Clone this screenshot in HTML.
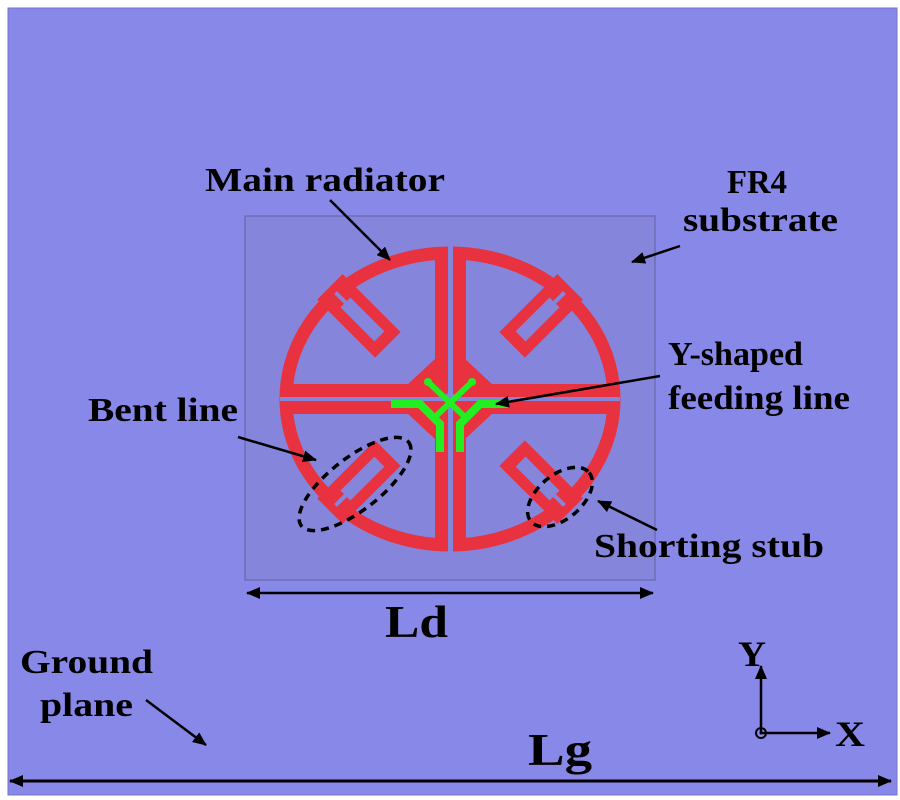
<!DOCTYPE html>
<html><head><style>html,body{margin:0;padding:0;background:#fff}svg{display:block}</style></head>
<body>
<svg width="900" height="800" viewBox="0 0 900 800" xmlns="http://www.w3.org/2000/svg" font-family="Liberation Serif, serif" font-weight="bold">
<defs>
<marker id="ah2" markerWidth="14" markerHeight="12" refX="13" refY="6" orient="auto" markerUnits="userSpaceOnUse"><path d="M0,0 L14,6 L0,12 z" fill="#000"/></marker>
<marker id="ahs" markerWidth="14" markerHeight="12" refX="1" refY="6" orient="auto" markerUnits="userSpaceOnUse"><path d="M14,0 L0,6 L14,12 z" fill="#000"/></marker>
<g id="stub">
 <g transform="translate(361,318) rotate(45)">
  <rect x="-44" y="-18" width="82" height="36" fill="#e8323f"/>
  <rect x="-22" y="-7" width="48" height="14" fill="#8585dc"/>
  <rect x="-36" y="-2" width="14" height="4" fill="#8585dc"/>
 </g>
</g>
</defs>
<rect x="8" y="8" width="889" height="787" fill="#8888e8" stroke="#7474c8" stroke-width="1"/>
<rect x="245" y="216" width="410" height="364" fill="#8585dc" stroke="#6d6db5" stroke-width="1.5"/>
<ellipse cx="450" cy="399" rx="164" ry="146" fill="none" stroke="#e8323f" stroke-width="13"/>
<rect x="282" y="384" width="336" height="30" fill="#e8323f"/>
<rect x="435" y="249" width="31" height="302" fill="#e8323f"/>
<polygon points="450,345 508,399 450,453 392,399" fill="#e8323f"/>
<use href="#stub"/>
<use href="#stub" transform="translate(900,0) scale(-1,1)"/>
<use href="#stub" transform="translate(0,798) scale(1,-1)"/>
<use href="#stub" transform="translate(900,798) scale(-1,-1)"/>
<rect x="280" y="397" width="340" height="4" fill="#8585dc"/>
<rect x="448" y="246" width="5" height="308" fill="#8585dc"/>
<circle cx="450" cy="399" r="6" fill="#8585dc"/>
<g stroke="#22ee22" fill="none">
 <path d="M391,404 L420,404 L440,424 L440,452" stroke-width="8"/>
 <path d="M509,404 L480,404 L460,424 L460,452" stroke-width="8"/>
 <path d="M428,382 L466,418 M472,382 L434,418" stroke-width="6"/>
 <circle cx="428" cy="382" r="4" fill="#22ee22" stroke="none"/>
 <circle cx="472" cy="382" r="4" fill="#22ee22" stroke="none"/>
</g>
<ellipse cx="355" cy="484" rx="68" ry="26" transform="rotate(-38 355 484)" fill="none" stroke="#000" stroke-width="3.5" stroke-dasharray="8,6"/>
<ellipse cx="560" cy="497" rx="38" ry="22" transform="rotate(-40 560 497)" fill="none" stroke="#000" stroke-width="3.5" stroke-dasharray="8,6"/>
<g stroke="#000" stroke-width="2.5" fill="none">
 <line x1="330" y1="200" x2="390" y2="260" marker-end="url(#ah2)"/>
 <line x1="680" y1="246" x2="632" y2="262" marker-end="url(#ah2)"/>
 <line x1="660" y1="376" x2="496" y2="404" marker-end="url(#ah2)"/>
 <line x1="238" y1="437" x2="316" y2="460" marker-end="url(#ah2)"/>
 <line x1="657" y1="530" x2="598" y2="501" marker-end="url(#ah2)"/>
 <line x1="146" y1="700" x2="206" y2="745" marker-end="url(#ah2)"/>
 <line x1="247" y1="593" x2="653" y2="593" marker-start="url(#ahs)" marker-end="url(#ah2)"/>
 <line x1="10" y1="781" x2="891" y2="781" stroke-width="3" marker-start="url(#ahs)" marker-end="url(#ah2)"/>
 <line x1="761" y1="733" x2="761" y2="666" marker-end="url(#ah2)"/>
 <line x1="761" y1="733" x2="830" y2="733" marker-end="url(#ah2)"/>
 <circle cx="761" cy="733" r="5" stroke-width="2"/>
</g>
<circle cx="761" cy="733" r="1.5" fill="#000"/>
<g fill="#000" font-size="34">
 <text x="205" y="191" textLength="240" lengthAdjust="spacingAndGlyphs">Main radiator</text>
 <text x="727" y="193" textLength="60" lengthAdjust="spacingAndGlyphs">FR4</text>
 <text x="683" y="231" textLength="155" lengthAdjust="spacingAndGlyphs">substrate</text>
 <text x="668" y="365" textLength="135" lengthAdjust="spacingAndGlyphs">Y-shaped</text>
 <text x="668" y="409" textLength="182" lengthAdjust="spacingAndGlyphs">feeding line</text>
 <text x="88" y="421" textLength="150" lengthAdjust="spacingAndGlyphs">Bent line</text>
 <text x="594" y="557" textLength="230" lengthAdjust="spacingAndGlyphs">Shorting stub</text>
 <text x="20" y="673" textLength="133" lengthAdjust="spacingAndGlyphs">Ground</text>
 <text x="40" y="716" textLength="93" lengthAdjust="spacingAndGlyphs">plane</text>
 <text x="385" y="637" font-size="46" textLength="63" lengthAdjust="spacingAndGlyphs">Ld</text>
 <text x="528" y="765" font-size="46" textLength="64" lengthAdjust="spacingAndGlyphs">Lg</text>
 <text x="738" y="666" font-size="36" textLength="28" lengthAdjust="spacingAndGlyphs">Y</text>
 <text x="835" y="746" font-size="36" textLength="30" lengthAdjust="spacingAndGlyphs">X</text>
</g>
</svg>
</body></html>
